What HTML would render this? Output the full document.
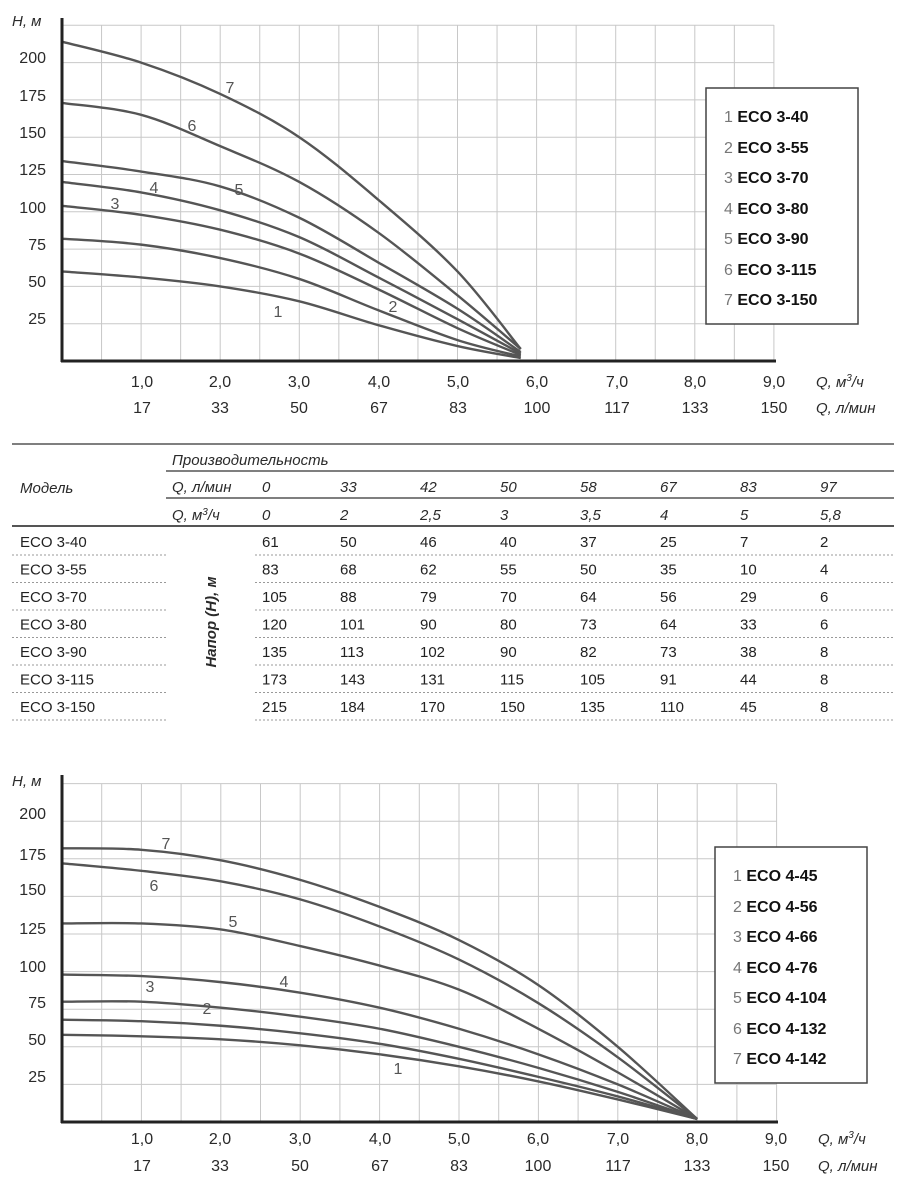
<!DOCTYPE html>
<html><head><meta charset="utf-8"><style>
html,body{margin:0;padding:0;background:#fff;}
svg{display:block;font-family:"Liberation Sans",sans-serif;}
.t{font-size:16px;fill:#2a2a2a;}
.it{font-style:italic;font-size:15px;fill:#2a2a2a;}
.lg{font-size:16px;font-weight:bold;fill:#111;}
.lgn{font-size:16px;fill:#777;}
.cl{font-size:16px;fill:#555;}
.tb{font-size:15px;fill:#222;}
</style></head><body>
<svg id="s" width="908" height="1188" viewBox="0 0 908 1188" xmlns="http://www.w3.org/2000/svg">
<g id="g1" stroke="#c8c8c8" stroke-width="1"></g>
<g id="g2" stroke="#c8c8c8" stroke-width="1"></g>
<g id="curves" fill="none" stroke="#555" stroke-width="2.4"></g>
<line x1="62" y1="18" x2="62" y2="362" stroke="#222" stroke-width="3"/>
<line x1="61" y1="361" x2="776" y2="361" stroke="#222" stroke-width="3"/>
<line x1="62" y1="775" x2="62" y2="1123" stroke="#222" stroke-width="3"/>
<line x1="61" y1="1122" x2="778" y2="1122" stroke="#222" stroke-width="3"/>
<text x="12" y="26" class="it">H, м</text>
<g class="t" text-anchor="end">
<text x="46" y="63">200</text><text x="46" y="101">175</text><text x="46" y="138">150</text><text x="46" y="175">125</text><text x="46" y="213">100</text><text x="46" y="250">75</text><text x="46" y="287">50</text><text x="46" y="324">25</text>
</g>
<g class="t" text-anchor="middle">
<text x="142" y="387">1,0</text><text x="220" y="387">2,0</text><text x="299" y="387">3,0</text><text x="379" y="387">4,0</text><text x="458" y="387">5,0</text><text x="537" y="387">6,0</text><text x="617" y="387">7,0</text><text x="695" y="387">8,0</text><text x="774" y="387">9,0</text>
<text x="142" y="413">17</text><text x="220" y="413">33</text><text x="299" y="413">50</text><text x="379" y="413">67</text><text x="458" y="413">83</text><text x="537" y="413">100</text><text x="617" y="413">117</text><text x="695" y="413">133</text><text x="774" y="413">150</text>
</g>
<text x="816" y="387" class="it">Q, м<tspan font-size="10" dy="-6">3</tspan><tspan dy="6">/ч</tspan></text>
<text x="816" y="413" class="it">Q, л/мин</text>
<g class="cl" text-anchor="middle">
<text x="230" y="93">7</text><text x="192" y="131">6</text><text x="239" y="195">5</text><text x="154" y="193">4</text><text x="115" y="209">3</text><text x="278" y="317">1</text><text x="393" y="312">2</text>
</g>
<rect x="706" y="88" width="152" height="236" fill="#fff" stroke="#444" stroke-width="1.5"/>
<g>
<text x="724" y="122"><tspan class="lgn">1 </tspan><tspan class="lg">ECO 3-40</tspan></text>
<text x="724" y="153"><tspan class="lgn">2 </tspan><tspan class="lg">ECO 3-55</tspan></text>
<text x="724" y="183"><tspan class="lgn">3 </tspan><tspan class="lg">ECO 3-70</tspan></text>
<text x="724" y="214"><tspan class="lgn">4 </tspan><tspan class="lg">ECO 3-80</tspan></text>
<text x="724" y="244"><tspan class="lgn">5 </tspan><tspan class="lg">ECO 3-90</tspan></text>
<text x="724" y="275"><tspan class="lgn">6 </tspan><tspan class="lg">ECO 3-115</tspan></text>
<text x="724" y="305"><tspan class="lgn">7 </tspan><tspan class="lg">ECO 3-150</tspan></text>
</g>
<line x1="12" y1="444" x2="894" y2="444" stroke="#555" stroke-width="1.5"/>
<line x1="166" y1="471" x2="894" y2="471" stroke="#555" stroke-width="1.5"/>
<line x1="166" y1="498" x2="894" y2="498" stroke="#555" stroke-width="1.5"/>
<line x1="12" y1="526" x2="894" y2="526" stroke="#555" stroke-width="2"/>
<text x="172" y="465" class="it">Производительность</text>
<text x="20" y="493" class="it">Модель</text>
<text x="172" y="492" class="it">Q, л/мин</text>
<text x="172" y="520" class="it">Q, м<tspan font-size="10" dy="-5">3</tspan><tspan dy="5">/ч</tspan></text>
<g id="tbl"></g>
<text transform="translate(216,622) rotate(-90)" text-anchor="middle" class="it" font-weight="bold" style="font-size:15px">Напор (H), м</text>
<text x="12" y="786" class="it">H, м</text>
<g class="t" text-anchor="end">
<text x="46" y="819">200</text><text x="46" y="860">175</text><text x="46" y="895">150</text><text x="46" y="934">125</text><text x="46" y="972">100</text><text x="46" y="1008">75</text><text x="46" y="1045">50</text><text x="46" y="1082">25</text>
</g>
<g class="t" text-anchor="middle">
<text x="142" y="1144">1,0</text><text x="220" y="1144">2,0</text><text x="300" y="1144">3,0</text><text x="380" y="1144">4,0</text><text x="459" y="1144">5,0</text><text x="538" y="1144">6,0</text><text x="618" y="1144">7,0</text><text x="697" y="1144">8,0</text><text x="776" y="1144">9,0</text>
<text x="142" y="1171">17</text><text x="220" y="1171">33</text><text x="300" y="1171">50</text><text x="380" y="1171">67</text><text x="459" y="1171">83</text><text x="538" y="1171">100</text><text x="618" y="1171">117</text><text x="697" y="1171">133</text><text x="776" y="1171">150</text>
</g>
<text x="818" y="1144" class="it">Q, м<tspan font-size="10" dy="-6">3</tspan><tspan dy="6">/ч</tspan></text>
<text x="818" y="1171" class="it">Q, л/мин</text>
<g class="cl" text-anchor="middle">
<text x="166" y="849">7</text><text x="154" y="891">6</text><text x="233" y="927">5</text><text x="284" y="987">4</text><text x="150" y="992">3</text><text x="207" y="1014">2</text><text x="398" y="1074">1</text>
</g>
<rect x="715" y="847" width="152" height="236" fill="#fff" stroke="#444" stroke-width="1.5"/>
<g>
<text x="733" y="881"><tspan class="lgn">1 </tspan><tspan class="lg">ECO 4-45</tspan></text>
<text x="733" y="912"><tspan class="lgn">2 </tspan><tspan class="lg">ECO 4-56</tspan></text>
<text x="733" y="942"><tspan class="lgn">3 </tspan><tspan class="lg">ECO 4-66</tspan></text>
<text x="733" y="973"><tspan class="lgn">4 </tspan><tspan class="lg">ECO 4-76</tspan></text>
<text x="733" y="1003"><tspan class="lgn">5 </tspan><tspan class="lg">ECO 4-104</tspan></text>
<text x="733" y="1034"><tspan class="lgn">6 </tspan><tspan class="lg">ECO 4-132</tspan></text>
<text x="733" y="1064"><tspan class="lgn">7 </tspan><tspan class="lg">ECO 4-142</tspan></text>
</g>
</svg>
<script>
(function(){
var NS="http://www.w3.org/2000/svg";
function el(p,t,a){var e=document.createElementNS(NS,t);for(var k in a)e.setAttribute(k,a[k]);p.appendChild(e);return e;}
function grid(g,x0,ux,y0,uy,yTop){
 for(var i=1;i<=18;i++){var x=x0+i*ux/2;el(g,'line',{x1:x,y1:yTop,x2:x,y2:y0});}
 for(var h=25;h<=225;h+=25){var y=y0-h*uy;el(g,'line',{x1:x0,y1:y,x2:x0+9*ux,y2:y});}
}
grid(document.getElementById('g1'),62,79.1,361,1.492,25);
grid(document.getElementById('g2'),62,79.4,1122,1.504,784);
function path(pts){var d='M'+pts[0][0]+','+pts[0][1];
 for(var i=0;i<pts.length-1;i++){var p0=pts[i-1]||pts[i],p1=pts[i],p2=pts[i+1],p3=pts[i+2]||p2;
  d+=' C'+(p1[0]+(p2[0]-p0[0])/6)+','+(p1[1]+(p2[1]-p0[1])/6)+' '+(p2[0]-(p3[0]-p1[0])/6)+','+(p2[1]-(p3[1]-p1[1])/6)+' '+p2[0]+','+p2[1];}
 return d;}
var cg=document.getElementById('curves');
var qs=[0,1,2,3,4,5,5.8];
var tcur=[[60,56,50,40,24,10,2],[82,78,69,55,34,14,3],[104,98,88,72,48,22,4],[120,113,101,83,56,28,5],[134,127,117,96,66,35,6],[173,165,144,120,86,44,8],[214,200,179,150,108,60,8]];
tcur.forEach(function(r){var pts=r.map(function(h,i){return [62+qs[i]*79.1,361-h*1.492];});el(cg,'path',{d:path(pts)});});
var qb=[0,1,2,3,4,5,6,7,8];
var bdata=[[58,57,55,51,45,37,27,15,2],[68,67,64,59,52,42,30,17,2],[80,80,76,70,62,50,36,20,2],[98,97,93,86,76,62,45,25,2],[132,132,128,117,104,88,62,33,2],[172,167,160,148,130,108,79,43,2],[182,181,174,161,143,121,91,50,2]];
bdata.forEach(function(r){var pts=r.map(function(h,i){return [62+qb[i]*79.4,1122-h*1.504];});el(cg,'path',{d:path(pts)});});
var tdata=[[61,50,46,40,37,25,7,2],[83,68,62,55,50,35,10,4],[105,88,79,70,64,56,29,6],[120,101,90,80,73,64,33,6],[135,113,102,90,82,73,38,8],[173,143,131,115,105,91,44,8],[215,184,170,150,135,110,45,8]];
var tb=document.getElementById('tbl');
var cx=[262,340,420,500,580,660,740,820];
var hdr1=['0','33','42','50','58','67','83','97'],hdr2=['0','2','2,5','3','3,5','4','5','5,8'];
cx.forEach(function(x,i){var t=el(tb,'text',{x:x,y:492,'class':'it'});t.textContent=hdr1[i];t=el(tb,'text',{x:x,y:520,'class':'it'});t.textContent=hdr2[i];});
var names=['ECO 3-40','ECO 3-55','ECO 3-70','ECO 3-80','ECO 3-90','ECO 3-115','ECO 3-150'];
names.forEach(function(n,r){var y=547+r*27.5;var t=el(tb,'text',{x:20,y:y,'class':'tb'});t.textContent=n;
 tdata[r].forEach(function(v,i){var t=el(tb,'text',{x:cx[i],y:y,'class':'tb'});t.textContent=v;});
 var ly=y+8;el(tb,'line',{x1:12,y1:ly,x2:166,y2:ly,stroke:'#999','stroke-dasharray':'2,2'});el(tb,'line',{x1:255,y1:ly,x2:894,y2:ly,stroke:'#999','stroke-dasharray':'2,2'});});
})();
</script>
</body></html>
